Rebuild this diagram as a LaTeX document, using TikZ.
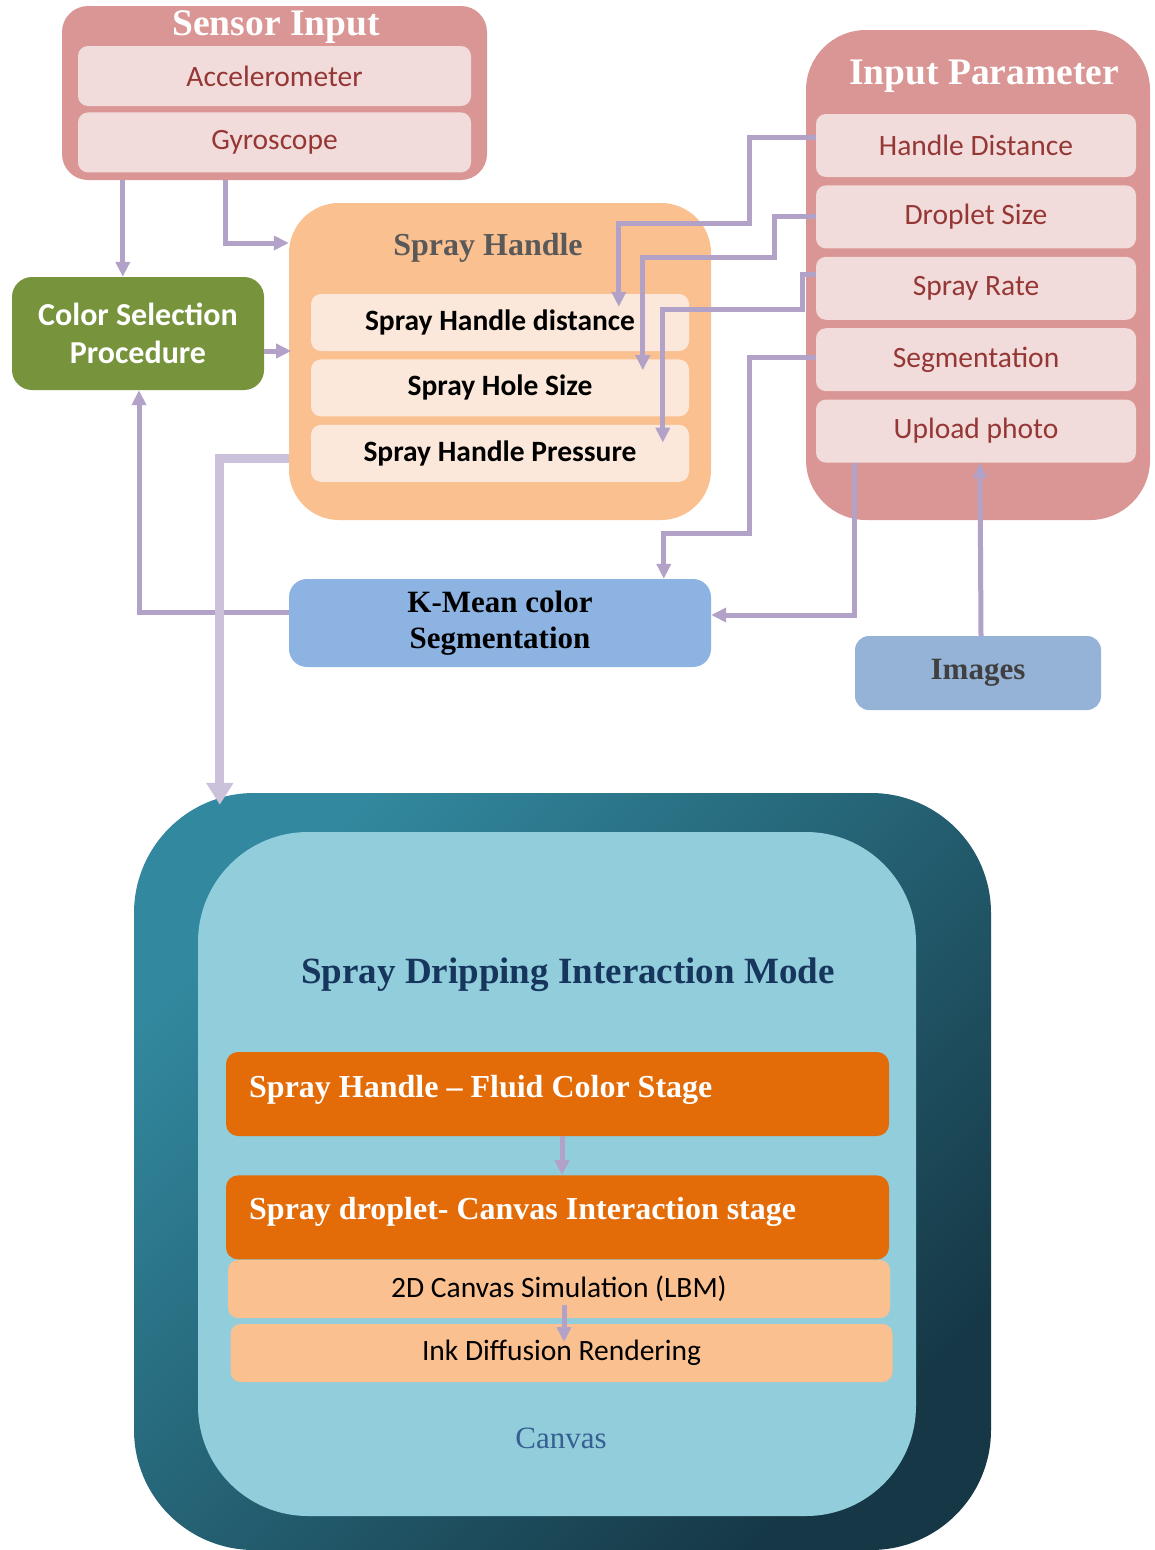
\documentclass[tikz,border=0pt]{standalone}
\usepackage{fontspec}
\setmainfont{Liberation Serif}
\newfontfamily\calibri{Carlito}
\usetikzlibrary{arrows.meta,positioning}

\definecolor{pinkdark}{RGB}{217,150,148}
\definecolor{pinklight}{RGB}{242,220,219}
\definecolor{itemred}{RGB}{149,55,53}
\definecolor{peach}{RGB}{250,192,144}
\definecolor{peachlight}{RGB}{252,232,218}
\definecolor{leafgreen}{RGB}{119,147,60}
\definecolor{kblue}{RGB}{141,179,226}
\definecolor{imgblue}{RGB}{149,179,215}
\definecolor{tealtop}{RGB}{50,136,158}
\definecolor{tealbot}{RGB}{22,56,70}
\definecolor{canvasblue}{RGB}{146,205,220}
\definecolor{stageorange}{RGB}{227,108,9}
\definecolor{navy}{RGB}{23,54,93}
\definecolor{canvastext}{RGB}{55,96,146}
\definecolor{lilac}{RGB}{178,162,199}
\definecolor{lilaclight}{RGB}{204,193,218}
\definecolor{handlegray}{RGB}{89,89,89}
\definecolor{imggray}{RGB}{64,64,64}

\begin{document}
\begin{tikzpicture}[
		x=1pt, y=-1pt,
		node distance=8pt,
		heading/.style={font=\bfseries\fontsize{37.5}{40}\selectfont, text=white},
		sensorbox/.style={fill=pinkdark, rounded corners=26pt, minimum width=425pt, minimum height=174pt, inner sep=0pt},
		parambox/.style={fill=pinkdark, rounded corners=60pt, minimum width=344pt, minimum height=490pt, inner sep=0pt},
		handlebox/.style={fill=peach, rounded corners=50pt, minimum width=422pt, minimum height=317pt, inner sep=0pt},
		pinkitem/.style={fill=pinklight, text=itemred, rounded corners=10pt, minimum height=60pt, inner sep=0pt, font=\calibri\fontsize{29.5}{34}\selectfont},
		sensoritem/.style={pinkitem, minimum width=393pt},
		paramitem/.style={pinkitem, minimum width=320pt, minimum height=63pt},
		handleitem/.style={fill=peachlight, rounded corners=10pt, minimum width=378pt, minimum height=57pt, inner sep=0pt, font=\calibri\bfseries\fontsize{29.5}{34}\selectfont},
		greenbox/.style={fill=leafgreen, text=white, rounded corners=20pt, minimum width=252pt, minimum height=113pt, inner sep=0pt, align=center, font=\calibri\bfseries\fontsize{32}{38}\selectfont},
		kbox/.style={fill=kblue, rounded corners=18pt, minimum width=422pt, minimum height=88pt, inner sep=0pt, align=center, font=\bfseries\fontsize{31}{36}\selectfont},
		imgbox/.style={fill=imgblue, text=imggray, rounded corners=14pt, minimum width=246pt, minimum height=74pt, inner sep=0pt, font=\bfseries\fontsize{31}{36}\selectfont},
		modebox/.style={top color=tealtop, bottom color=tealbot, shading angle=45, rounded corners=120pt, minimum width=857pt, minimum height=757pt, inner sep=0pt},
		canvasbox/.style={fill=canvasblue, rounded corners=110pt, minimum width=718pt, minimum height=684pt, inner sep=0pt},
		stagebox/.style={fill=stageorange, rounded corners=12pt, minimum width=663pt, minimum height=84pt, inner sep=0pt},
		stagetext/.style={anchor=base west, text=white, inner sep=0pt, font=\bfseries\fontsize{32}{36}\selectfont},
		simbox/.style={fill=peach, rounded corners=10pt, minimum width=662pt, minimum height=58pt, inner sep=0pt, font=\calibri\fontsize{29.5}{34}\selectfont},
		flow/.style={draw=lilac, line width=5pt, -{Triangle[length=15pt,width=14pt]}},
		bigflow/.style={draw=lilaclight, line width=9pt, -{Triangle[length=22pt,width=26pt]}},
	]
		\useasboundingbox (0,0) rectangle (1155,1550);

		% sensor input
		\node (sensor) [sensorbox] at (274.5,93) {};
		\node (sensor title) [heading] at (276,27) {Sensor Input};
		\node (acc) [sensoritem] at (274.5,76) {Accelerometer};
		\node (gyro) [sensoritem, below=6pt of acc] {Gyroscope};

		% input parameter
		\node (param) [parambox] at (978,275) {};
		\node (param title) [heading] at (984,76) {Input Parameter};
		\node (hd) [paramitem] at (976,145.5) {Handle Distance};
		\node (ds) [paramitem, below=of hd] {Droplet Size};
		\node (sr) [paramitem, below=of ds] {Spray Rate};
		\node (seg) [paramitem, below=of sr] {Segmentation};
		\node (up) [paramitem, below=of seg] {Upload photo};

		% spray handle
		\node (handle) [handlebox] at (500,361.5) {};
		\node (handle title) [heading, text=handlegray, font=\bfseries\fontsize{32}{36}\selectfont] at (488,248) {Spray Handle};
		\node (shd) [handleitem] at (500,322.5) {Spray Handle distance};
		\node (shs) [handleitem, below=of shd] {Spray Hole Size};
		\node (shp) [handleitem, below=of shs] {Spray Handle Pressure};

		\node (csp) [greenbox] at (138,333.5) {Color Selection\\Procedure};
		\node (kmean) [kbox] at (500,623) {K-Mean color\\Segmentation};
		\node (images) [imgbox] at (978,673) {Images};

		% interaction mode
		\node (mode) [modebox] at (562.5,1171.5) {};
		\node (canvas) [canvasbox] at (557,1174) {};
		\node (mode title) [text=navy, font=\bfseries\fontsize{37}{40}\selectfont] at (568,975) {Spray Dripping Interaction Mode};
		\node (stage1) [stagebox] at (557.5,1094) {};
		\node (stage1 text) [stagetext] at (249,1097) {Spray Handle – Fluid Color Stage};
		\node (stage2) [stagebox, below=39pt of stage1] {};
		\node (stage2 text) [stagetext] at (249,1219) {Spray droplet- Canvas Interaction stage};
		\node (lbm) [simbox] at (559,1289) {2D Canvas Simulation (LBM)};
		\node (ink) [simbox] at (561.5,1353) {Ink Diffusion Rendering};
		\node (canvas label) [text=canvastext, font=\fontsize{31}{36}\selectfont] at (561,1438) {Canvas};

		% connectors
		\draw[flow] ([xshift=61pt]sensor.south west) -- ([xshift=111pt]csp.north west);
		\draw[flow] ([xshift=164pt]sensor.south west) |- ([yshift=118.5pt]handle.west);
		\draw[flow] ([yshift=-17.5pt]csp.east) -- ++(27,0);
		\draw[flow] ([yshift=8.5pt]hd.west) -| (749,223) -| ([xshift=308pt,yshift=-13pt]shd.north west);
		\draw[flow] (ds.west) -| (774,257) -| ([xshift=332pt,yshift=-11pt]shs.north west);
		\draw[flow] ([yshift=13.5pt]sr.west) -| (802,309) -| ([xshift=352pt,yshift=-18pt]shp.north west);
		\draw[flow] ([yshift=2.5pt]seg.west) -| (749,533) -| ([xshift=375pt]kmean.north west);
		\draw[flow] ([xshift=-122pt]up.south) |- ([yshift=8pt]kmean.east);
		\draw[flow] ([xshift=3pt]images.north) -- ([xshift=4pt]up.south);
		\draw[flow] ([yshift=11pt]kmean.west) -| ([xshift=1pt]csp.south);
		\draw[bigflow] ([yshift=-96.5pt]handle.west) -| ([xshift=86pt,yshift=-12pt]mode.north west);
		\draw[flow] ([xshift=4.5pt]stage1.south) -- ([xshift=4.5pt]stage2.north);
		\draw[flow] ([xshift=5pt,yshift=-16pt]lbm.center) -- ([xshift=2.5pt,yshift=11pt]ink.center);
	\end{tikzpicture}
\end{document}
